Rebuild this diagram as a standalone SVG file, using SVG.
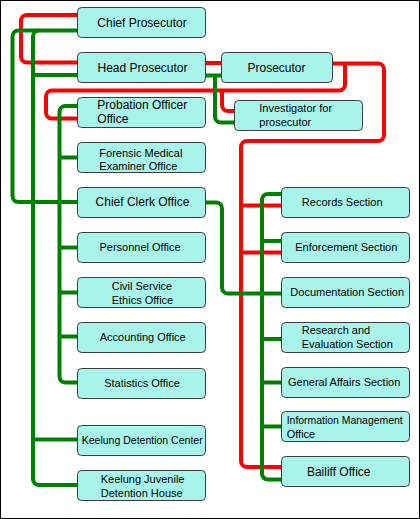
<svg xmlns="http://www.w3.org/2000/svg" width="420" height="519" viewBox="0 0 420 519">
<style>
.frame{fill:#fff;stroke:#000;stroke-width:1}
.box{fill:#A8F4EB;stroke:#3C3C3C;stroke-width:1}
.r{fill:none;stroke:#FF0000;stroke-width:4}
.g{fill:none;stroke:#008000;stroke-width:4}
text{font-family:"Liberation Sans",Arial,sans-serif;fill:#000}
.t12{font-size:12px}
.t11{font-size:11px}
.c{text-anchor:middle}
</style>
<rect class="frame" x="0.5" y="0.5" width="419" height="518"/>
<g id="connectors">
<g id="red-lines">
<path class="r" d="M77.5,15 H27 A6,6 0 0 0 21,21 V56.5 A6,6 0 0 0 27,62.5 H77.5"/>
<path class="r" d="M205.5,63 H221.5"/>
<path class="r" d="M332.5,63.5 H378 A6,6 0 0 1 384,69.5 V135 A6,6 0 0 1 378,141 H247 A6,6 0 0 0 241,147 V461 A6,6 0 0 0 247,467 H281.5"/>
<path class="r" d="M345,63.5 V84.5 A6,6 0 0 1 339,90.5 H52 A6,6 0 0 0 46,96.5 V112.5 A6,6 0 0 0 52,118.5 H77.5"/>
<path class="r" d="M222,90.5 V105 A6,6 0 0 0 228,111 H234.5"/>
<path class="r" d="M241,205.5 H281.5"/>
<path class="r" d="M241,252.5 H281.5"/>
</g>
<g id="green-lines">
<path class="g" d="M77.5,30.5 H18.5 A6,6 0 0 0 12.5,36.5 V196 A6,6 0 0 0 18.5,202 H77.5"/>
<path class="g" d="M39,30.5 A6,6 0 0 0 33,36.5 V479 A6,6 0 0 0 39,485 H77.5"/>
<path class="g" d="M33,75 H77.5"/>
<path class="g" d="M33,439.5 H77.5"/>
<path class="g" d="M205.5,75.5 H221.5"/>
<path class="g" d="M215,75.5 V116.5 A6,6 0 0 0 221,122.5 H234.5"/>
<path class="g" d="M77.5,106 H65.5 A6,6 0 0 0 59.5,112 V376.5 A6,6 0 0 0 65.5,382.5 H77.5"/>
<path class="g" d="M59.5,157.5 H77.5"/>
<path class="g" d="M59.5,247.5 H77.5"/>
<path class="g" d="M59.5,292.5 H77.5"/>
<path class="g" d="M59.5,336.5 H77.5"/>
<path class="g" d="M205.5,202.5 H216 A6,6 0 0 1 222,208.5 V287.5 A6,6 0 0 0 228,293.5 H281.5"/>
<path class="g" d="M281.5,194 H268 A6,6 0 0 0 262,200 V473.5 A6,6 0 0 0 268,479.5 H281.5"/>
<path class="g" d="M262,241 H281.5"/>
<path class="g" d="M262,339 H281.5"/>
<path class="g" d="M262,382.5 H281.5"/>
<path class="g" d="M262,426.5 H281.5"/>
</g>
</g>
<g id="chief-prosecutor"><rect class="box" x="77.5" y="7.5" width="128" height="30" rx="4"/><text class="t12 c" x="142" y="26.5">Chief Prosecutor</text></g>
<g id="head-prosecutor"><rect class="box" x="77.5" y="52.5" width="128" height="30" rx="4"/><text class="t12 c" x="142.5" y="71.5">Head Prosecutor</text></g>
<g id="prosecutor"><rect class="box" x="221.5" y="52.5" width="111" height="30" rx="4"/><text class="t12 c" x="276.5" y="71.5">Prosecutor</text></g>
<g id="investigator"><rect class="box" x="234.5" y="100.5" width="128" height="30" rx="4"/><text class="t11" x="259.3" y="112.3">Investigator for</text><text class="t11" x="259.3" y="126">prosecutor</text></g>
<g id="probation-officer-office"><rect class="box" x="77.5" y="97.5" width="128" height="30" rx="4"/><text class="t12" x="97.3" y="109">Probation Officer</text><text class="t12" x="97.3" y="123.3">Office</text></g>
<g id="forensic-medical-examiner-office"><rect class="box" x="77.5" y="142.5" width="128" height="30" rx="4"/><text class="t11" x="99.3" y="156.5">Forensic Medical</text><text class="t11" x="99.3" y="170">Examiner Office</text></g>
<g id="chief-clerk-office"><rect class="box" x="77.5" y="187.5" width="128" height="30" rx="4"/><text class="t12 c" x="142.5" y="206">Chief Clerk Office</text></g>
<g id="personnel-office"><rect class="box" x="77.5" y="232.5" width="128" height="30" rx="4"/><text class="t11 c" x="140" y="251">Personnel Office</text></g>
<g id="civil-service-ethics-office"><rect class="box" x="77.5" y="277.5" width="128" height="30" rx="4"/><text class="t11" x="111.7" y="290">Civil Service</text><text class="t11" x="111.7" y="304">Ethics Office</text></g>
<g id="accounting-office"><rect class="box" x="77.5" y="322.5" width="128" height="30" rx="4"/><text class="t11 c" x="142.7" y="341">Accounting Office</text></g>
<g id="statistics-office"><rect class="box" x="77.5" y="368.5" width="128" height="30" rx="4"/><text class="t11 c" x="142" y="386.5">Statistics Office</text></g>
<g id="keelung-detention-center"><rect class="box" x="77.5" y="425.5" width="128" height="30" rx="4"/><text class="t11 c" x="142.2" y="443.5" textLength="121" lengthAdjust="spacingAndGlyphs">Keelung Detention Center</text></g>
<g id="keelung-juvenile-detention-house"><rect class="box" x="77.5" y="470.5" width="128" height="30" rx="4"/><text class="t11" x="100.7" y="482.7">Keelung Juvenile</text><text class="t11" x="100.7" y="496.7">Detention House</text></g>
<g id="records-section"><rect class="box" x="281.5" y="187.5" width="128" height="30" rx="4"/><text class="t11 c" x="342.2" y="206">Records Section</text></g>
<g id="enforcement-section"><rect class="box" x="281.5" y="232.5" width="128" height="30" rx="4"/><text class="t11 c" x="346.3" y="251">Enforcement Section</text></g>
<g id="documentation-section"><rect class="box" x="281.5" y="277.5" width="128" height="30" rx="4"/><text class="t11 c" x="347.2" y="295.5">Documentation Section</text></g>
<g id="research-evaluation-section"><rect class="box" x="281.5" y="322.5" width="128" height="30" rx="4"/><text class="t11" x="301.7" y="334">Research and</text><text class="t11" x="301.7" y="347.5">Evaluation Section</text></g>
<g id="general-affairs-section"><rect class="box" x="281.5" y="367.5" width="128" height="30" rx="4"/><text class="t11 c" x="344.2" y="386">General Affairs Section</text></g>
<g id="information-management-office"><rect class="box" x="281.5" y="411.5" width="128" height="30" rx="4"/><text class="t11" x="286.7" y="424" textLength="116" lengthAdjust="spacingAndGlyphs">Information Management</text><text class="t11" x="286.7" y="437.7">Office</text></g>
<g id="bailiff-office"><rect class="box" x="281.5" y="456.5" width="128" height="30" rx="4"/><text class="t12 c" x="338.7" y="476">Bailiff Office</text></g>
</svg>
